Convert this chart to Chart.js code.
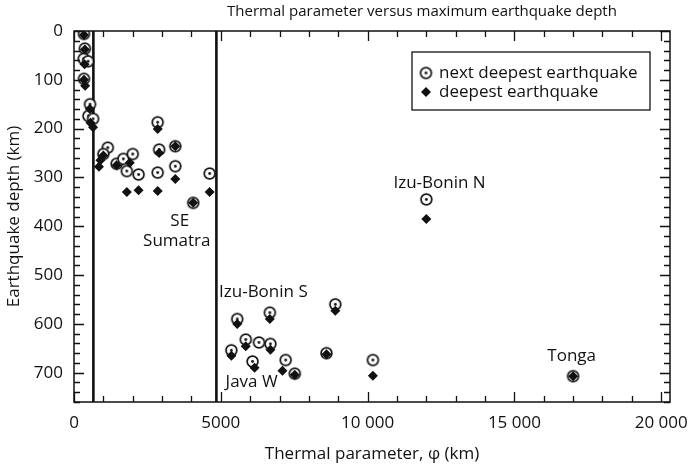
<!DOCTYPE html>
<html><head><meta charset="utf-8">
<script src="https://cdn.jsdelivr.net/npm/chart.js@4/dist/chart.umd.min.js"></script>
<style>html,body{margin:0;padding:0;background:#fff}#wrap{width:694px;height:472px}</style>
</head><body><div id="wrap"><canvas id="c" width="694" height="472"></canvas></div>
<script>
// ---- data (thermal parameter phi in km, depth in km) ----
const nextDeepestPhi   = [340, 370, 330, 480, 340, 545, 490, 650, 1150, 1000, 1450, 1680, 1800, 2000, 2200, 2850, 2850, 2900, 3450, 3450, 4620, 4060, 5560, 6670, 8900, 5850, 6300, 6690, 5360, 6080, 7210, 7520, 8600, 10180, 12000, 17000];
const nextDeepestDepth = [6, 36, 57, 62, 98, 150, 174, 180, 239, 252, 272, 262, 287, 252, 294, 187, 290, 243, 236, 277, 292, 352, 590, 577, 560, 632, 638, 641, 654, 677, 674, 702, 660, 674, 345, 707];
const deepestPhi   = [340, 370, 360, 340, 380, 540, 560, 650, 1000, 900, 850, 1450, 1900, 1800, 2200, 2850, 2850, 2900, 3450, 3450, 4620, 4060, 5560, 6670, 8900, 5850, 6690, 5360, 6150, 7100, 7520, 8600, 10180, 12000, 17000];
const deepestDepth = [8, 38, 68, 100, 112, 160, 188, 197, 255, 265, 278, 275, 270, 330, 326, 201, 328, 250, 236, 303, 330, 352, 600, 590, 573, 646, 653, 665, 690, 696, 704, 662, 706, 385, 707];
const boundaryPhi = [660, 4850];
const xTickValues = [0, 5000, 10000, 15000, 20000];
const yTickValues = [0, 100, 200, 300, 400, 500, 600, 700];
const regionNames = ['Izu-Bonin N', 'SE', 'Sumatra', 'Izu-Bonin S', 'Java W', 'Tonga'];
const regionPhi   = [12450, 3600, 3500, 6450, 6050, 16950];
const regionDepth = [312, 390, 431, 536, 720, 667];
const seriesLabels = ['next deepest earthquake', 'deepest earthquake'];
const chartTitle = 'Thermal parameter versus maximum earthquake depth';

const FONT = "'Open Sans', 'DejaVu Sans', sans-serif";
const INK = '#111';

// circle-with-dot marker
const circleImg = document.createElement('canvas');
circleImg.width = 15; circleImg.height = 15;
(function(){
  const g = circleImg.getContext('2d');
  g.beginPath(); g.arc(7.5, 7.5, 5.4, 0, Math.PI*2);
  g.fillStyle = '#fff'; g.fill();
  g.lineWidth = 1.7; g.strokeStyle = INK; g.stroke();
  g.beginPath(); g.arc(7.5, 7.5, 1.4, 0, Math.PI*2); g.fillStyle = INK; g.fill();
})();

const zip = (xs, ys) => xs.map((x, i) => ({x: x, y: ys[i]}));

const datasets = [
  {label: seriesLabels[1], data: zip(deepestPhi, deepestDepth), pointStyle: 'rectRot', pointRadius: 5, backgroundColor: INK, borderColor: INK, borderWidth: 0, order: 0},
  {label: seriesLabels[0], data: zip(nextDeepestPhi, nextDeepestDepth), pointStyle: circleImg, pointRadius: 6, order: 1}
];
boundaryPhi.forEach(p => datasets.push({label: 'boundary', data: [{x: p, y: 0}, {x: p, y: 760}], showLine: true, borderColor: INK, borderWidth: 2.6, pointRadius: 0, order: 2}));

const decor = {
  id: 'decor',
  afterDraw(chart) {
    const ctx = chart.ctx, a = chart.chartArea, xs = chart.scales.x, ys = chart.scales.y;
    ctx.save();
    // frame
    ctx.strokeStyle = INK; ctx.lineWidth = 1.5;
    ctx.strokeRect(a.left, a.top, a.right - a.left, a.bottom - a.top);
    // ticks (inward, all four sides)
    ctx.lineWidth = 1.3;
    ctx.beginPath();
    for (let v = 0; v <= xs.max; v += 1000) {
      const px = Math.round(xs.getPixelForValue(v)) + 0.5, L = (v % 5000 === 0) ? 10 : 6;
      ctx.moveTo(px, a.bottom); ctx.lineTo(px, a.bottom - L);
      ctx.moveTo(px, a.top); ctx.lineTo(px, a.top + L);
    }
    for (let v = 0; v <= ys.max; v += 20) {
      const py = Math.round(ys.getPixelForValue(v)) + 0.5, L = (v % 100 === 0) ? 10 : 6;
      ctx.moveTo(a.left, py); ctx.lineTo(a.left + L, py);
      ctx.moveTo(a.right, py); ctx.lineTo(a.right - L, py);
    }
    ctx.stroke();
    // title
    ctx.fillStyle = INK; ctx.font = '15px ' + FONT;
    ctx.textAlign = 'center'; ctx.textBaseline = 'middle';
    ctx.fillText(chartTitle, 422, 12);
    // region labels
    ctx.font = '17px ' + FONT;
    regionNames.forEach((n, i) => ctx.fillText(n, xs.getPixelForValue(regionPhi[i]), ys.getPixelForValue(regionDepth[i])));
    // legend
    ctx.lineWidth = 1.3;
    ctx.strokeRect(412, 52, 238, 58);
    ctx.drawImage(circleImg, 426 - 7.5, 73 - 7.5);
    ctx.beginPath();
    ctx.moveTo(426, 92 - 5); ctx.lineTo(426 + 5, 92); ctx.lineTo(426, 92 + 5); ctx.lineTo(426 - 5, 92); ctx.closePath();
    ctx.fill();
    ctx.textAlign = 'left';
    ctx.fillText(seriesLabels[0], 439, 73);
    ctx.fillText(seriesLabels[1], 439, 92);
    ctx.restore();
  }
};

const fmt = v => v >= 10000 ? String(v).replace(/\B(?=(\d{3})+(?!\d))/g, ' ') : String(v);

new Chart(document.getElementById('c'), {
  type: 'scatter',
  data: {datasets: datasets},
  plugins: [decor],
  options: {
    responsive: false, animation: false,
    layout: {padding: {top: 31, right: 24, left: 0, bottom: 0}},
    plugins: {legend: {display: false}, tooltip: {enabled: false}, title: {display: false}},
    scales: {
      x: {
        type: 'linear', min: 0, max: 20300,
        afterBuildTicks: s => { s.ticks = xTickValues.map(v => ({value: v})); },
        afterFit: s => { s.height = 70; },
        grid: {display: false}, border: {display: false},
        ticks: {font: {family: FONT, size: 17}, color: INK, padding: 3, maxRotation: 0, callback: v => fmt(v)},
        title: {display: true, text: 'Thermal parameter, \u03c6 (km)', font: {family: FONT, size: 17}, color: INK, padding: {top: 0, bottom: 8}}
      },
      y: {
        type: 'linear', min: 0, max: 760, reverse: true,
        afterBuildTicks: s => { s.ticks = yTickValues.map(v => ({value: v})); },
        afterFit: s => { s.width = 74; },
        grid: {display: false}, border: {display: false},
        ticks: {font: {family: FONT, size: 17}, color: INK, padding: 3},
        title: {display: true, text: 'Earthquake depth (km)', font: {family: FONT, size: 17}, color: INK, padding: {top: 4, bottom: 4}}
      }
    }
  }
});
</script></body></html>
